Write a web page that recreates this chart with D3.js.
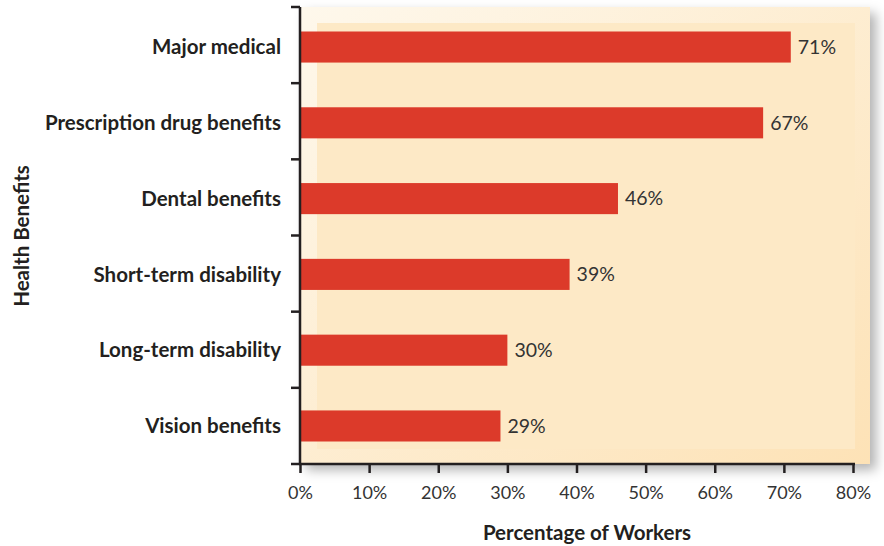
<!DOCTYPE html>
<html>
<head>
<meta charset="utf-8">
<script src="https://cdn.jsdelivr.net/npm/d3@7"></script>
<style>
  body { margin: 0; background: #fff; }
  svg { display: block; font-family: Lato, "Open Sans", sans-serif; }
</style>
</head>
<body>
<svg width="884" height="546"></svg>
<script>
// chart data
var categories = ['Major medical', 'Prescription drug benefits', 'Dental benefits',
  'Short-term disability', 'Long-term disability', 'Vision benefits'];
var values = [71, 67, 46, 39, 30, 29];
var xTicks = [0, 10, 20, 30, 40, 50, 60, 70, 80];

var svg = d3.select('svg');

var x = d3.scaleLinear().domain([0, 80]).range([300, 853]);
var y = d3.scaleBand().domain(categories).range([7, 464]).paddingInner(0.59).paddingOuter(0.31);

var defs = svg.append('defs');
var grad = defs.append('linearGradient').attr('id', 'bg')
  .attr('x1', 0).attr('y1', 0).attr('x2', 1).attr('y2', 1);
grad.append('stop').attr('offset', '0%').attr('stop-color', '#fef8ec');
grad.append('stop').attr('offset', '100%').attr('stop-color', '#fde2b6');

var shadow = defs.append('filter').attr('id', 'shadow')
  .attr('x', '-5%').attr('y', '-5%').attr('width', '115%').attr('height', '120%');
shadow.append('feDropShadow').attr('dx', 6).attr('dy', 6).attr('stdDeviation', 6)
  .attr('flood-color', '#000').attr('flood-opacity', 0.3);

// background panels
svg.append('rect')
  .attr('x', 300).attr('y', 7).attr('width', 570).attr('height', 457)
  .attr('fill', 'url(#bg)').attr('filter', 'url(#shadow)');
svg.append('rect')
  .attr('x', 317).attr('y', 23).attr('width', 538).attr('height', 426)
  .attr('fill', '#fde9c6');

// bars
svg.append('g').selectAll('rect')
  .data(values)
  .enter()
  .append('rect')
  .attr('x', x(0))
  .attr('y', function (d, i) { return y(categories[i]) + 1; })
  .attr('width', function (d) { return x(d) - x(0); })
  .attr('height', y.bandwidth())
  .attr('fill', '#dc3a2a');

// value labels
svg.append('g').selectAll('text')
  .data(values)
  .enter()
  .append('text')
  .attr('x', function (d) { return x(d) + 7; })
  .attr('y', function (d, i) { return y(categories[i]) + y.bandwidth() / 2 + 1; })
  .attr('dy', '0.35em')
  .attr('font-size', 19.5)
  .attr('fill', '#333')
  .text(function (d) { return d + '%'; });

// y axis
var yAxis = svg.append('g')
  .attr('transform', 'translate(300,0)');
yAxis.append('line')
  .attr('x1', 0).attr('x2', 0).attr('y1', 7).attr('y2', 465)
  .attr('stroke', '#231f20').attr('stroke-width', 2.5);
var bounds = [7].concat(categories.map(function (c, i) {
  return 7 + (i + 1) * (457 / categories.length);
}));
yAxis.selectAll('.tick')
  .data(bounds)
  .enter()
  .append('line')
  .attr('x1', -9).attr('x2', 0)
  .attr('y1', function (d) { return d; }).attr('y2', function (d) { return d; })
  .attr('stroke', '#231f20').attr('stroke-width', 2.5);
yAxis.selectAll('.cat')
  .data(categories)
  .enter()
  .append('text')
  .attr('x', -19)
  .attr('y', function (d) { return y(d) + y.bandwidth() / 2 + 1; })
  .attr('dy', '0.35em')
  .attr('text-anchor', 'end')
  .attr('font-size', 20.5)
  .attr('font-weight', 'bold')
  .attr('fill', '#231f20')
  .text(function (d) { return d; });

// x axis
var xAxis = svg.append('g')
  .attr('transform', 'translate(0,464)')
  .call(d3.axisBottom(x).tickValues(xTicks).tickSize(9).tickPadding(13)
    .tickFormat(function (d) { return d + '%'; }));
xAxis.select('.domain')
  .attr('d', 'M299,0H855')
  .attr('stroke', '#231f20').attr('stroke-width', 2.5);
xAxis.selectAll('.tick line').attr('stroke', '#231f20').attr('stroke-width', 2.5);
xAxis.selectAll('.tick text')
  .attr('font-size', 18)
  .attr('font-family', 'Lato, "Open Sans", sans-serif')
  .attr('fill', '#333');

// axis titles
svg.append('text')
  .attr('x', 587).attr('y', 540)
  .attr('text-anchor', 'middle')
  .attr('font-size', 20.5).attr('font-weight', 'bold').attr('fill', '#231f20')
  .text('Percentage of Workers');
svg.append('text')
  .attr('transform', 'translate(29,236) rotate(-90)')
  .attr('text-anchor', 'middle')
  .attr('font-size', 20.5).attr('font-weight', 'bold').attr('fill', '#231f20')
  .text('Health Benefits');
</script>
</body>
</html>
